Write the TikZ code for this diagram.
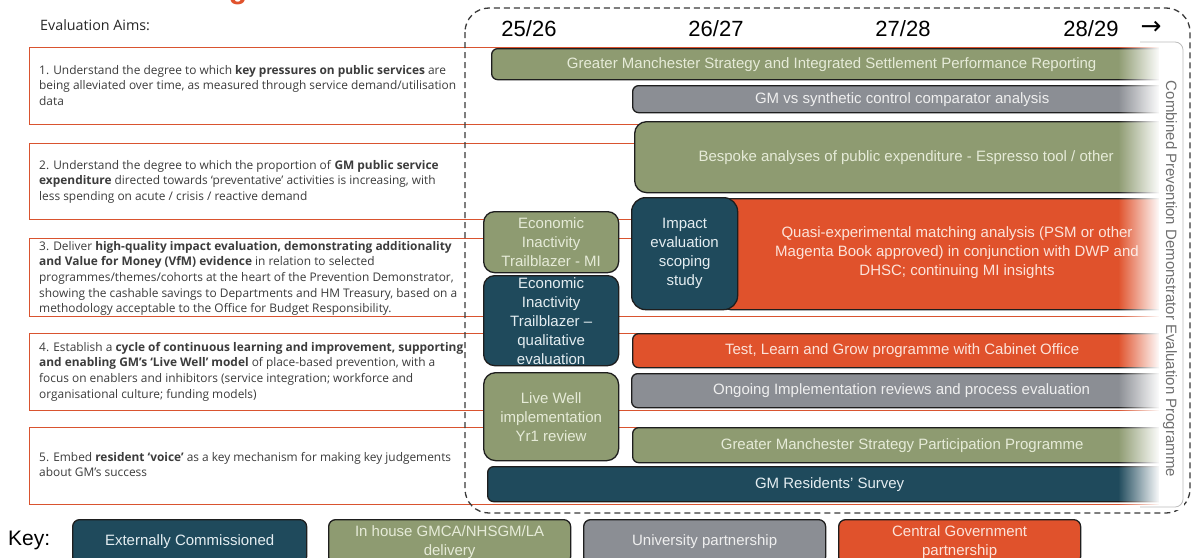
\documentclass[tikz,border=0pt]{standalone}
\usepackage{fontspec}
\setmainfont{Open Sans}
\newfontfamily\barfont{Liberation Sans}
\newfontfamily\symfont{DejaVu Sans}
\usetikzlibrary{fadings}
\definecolor{aimred}{HTML}{D9532F}
\definecolor{aimgray}{HTML}{3C3C3C}
\definecolor{gmgreen}{HTML}{8E9B71}
\definecolor{gmgray}{HTML}{8B8E94}
\definecolor{gmteal}{HTML}{1F4A5C}
\definecolor{gmorange}{HTML}{E0522C}
\definecolor{bardark}{HTML}{1E1E1E}
\definecolor{greentext}{HTML}{E6EBD8}
\definecolor{graytext}{HTML}{EFEFEF}
\definecolor{tealtext}{HTML}{E4EDF1}
\definecolor{orangetext}{HTML}{FCE3DA}
\definecolor{framegray}{HTML}{3A3A3A}
\definecolor{paneledge}{HTML}{BDBDBD}
\definecolor{vtext}{HTML}{707070}
\tikzfading[name=fadeR, left color=transparent!100, right color=transparent!0]
\begin{document}
\begin{tikzpicture}[x=1pt,y=-1pt,
  aimbox/.style={draw=aimred, line width=1.4pt, fill=white, anchor=north west, inner sep=0pt, minimum height=77pt, minimum width=1131pt},
  aimtext/.style={anchor=north west, inner sep=0pt, align=left, text=aimgray, font=\fontsize{11.9}{15.6}\selectfont},
  bar/.style={draw=bardark, line width=1.3pt, rounded corners=6pt, anchor=north west, inner sep=0pt, align=center, font=\barfont\fontsize{15}{19}\selectfont},
  greenbar/.style={bar, fill=gmgreen, text=greentext},
  graybar/.style={bar, fill=gmgray, text=graytext},
  tealbar/.style={bar, fill=gmteal, text=tealtext},
  orangebar/.style={bar, fill=gmorange, text=orangetext},
  yearlabel/.style={font=\barfont\fontsize{22}{26}\selectfont, inner sep=0pt},
  keybox/.style={bar, rounded corners=7pt, minimum width=240pt, minimum height=44pt}
]
\clip (0,0) rectangle (1194,557);
\useasboundingbox (0,0) rectangle (1194,557);
\fill[white] (0,0) rectangle (1194,557);

% fragment of the title
\node[text=gmorange, font=\barfont\bfseries\fontsize{30}{30}\selectfont, anchor=base, inner sep=0pt] (title) at (238,-1.5) {g};

\node[anchor=west, inner sep=0pt, font=\fontsize{14.3}{16}\selectfont, text=black!85] (aimshead) at (40,25) {Evaluation Aims:};

% aim boxes
\node[aimbox] (a1) at (29,47) {};
\node[aimbox, minimum height=76pt] (a2) at (29,143) {};
\node[aimbox, minimum height=78pt] (a3) at (29,238) {};
\node[aimbox, minimum height=77pt] (a4) at (29,333) {};
\node[aimbox, minimum height=77pt] (a5) at (29,427) {};

\node[aimtext] (t1) at (39,65) {1. Understand the degree to which \textbf{key pressures on public services} are\\being alleviated over time, as measured through service demand/utilisation\\data};
\node[aimtext] (t2) at (39,160) {2. Understand the degree to which the proportion of \textbf{GM public service}\\\textbf{expenditure} directed towards ‘preventative’ activities is increasing, with\\less spending on acute / crisis / reactive demand};
\node[aimtext] (t3) at (39,241) {3. Deliver \textbf{high-quality impact evaluation, demonstrating additionality}\\\textbf{and Value for Money (VfM) evidence} in relation to selected\\programmes/themes/cohorts at the heart of the Prevention Demonstrator,\\showing the cashable savings to Departments and HM Treasury, based on a\\methodology acceptable to the Office for Budget Responsibility.};
\node[aimtext] (t4) at (39,342) {4. Establish a \textbf{cycle of continuous learning and improvement, supporting}\\\textbf{and enabling GM’s ‘Live Well’ model} of place-based prevention, with a\\focus on enablers and inhibitors (service integration; workforce and\\organisational culture; funding models)};
\node[aimtext] (t5) at (39,452) {5. Embed \textbf{resident ‘voice’} as a key mechanism for making key judgements\\about GM’s success};

% timeline frame
\draw[framegray, line width=1.3pt, dash pattern=on 6pt off 4pt, rounded corners=24pt] (465,8) rectangle (1190,513);

% year labels
\node[yearlabel] (y1) at (529,29) {25/26};
\node[yearlabel] (y2) at (716,29) {26/27};
\node[yearlabel] (y3) at (903,29) {27/28};
\node[yearlabel] (y4) at (1091,29) {28/29};
\node[inner sep=0pt, font=\symfont\fontsize{25}{28}\selectfont] (arr) at (1151,28) {→};

% bars
\node[greenbar, minimum width=680pt, minimum height=31pt] (b1) at (491,48) {Greater Manchester Strategy and Integrated Settlement Performance Reporting};
\node[graybar, minimum width=539pt, minimum height=27pt] (b2) at (632,85) {GM vs synthetic control comparator analysis};
\node[greenbar, rounded corners=12pt, minimum width=537pt, minimum height=71pt] (b3) at (634,121) {\hspace*{6pt}Bespoke analyses of public expenditure - Espresso tool / other};
\node[orangebar, rounded corners=10pt, minimum width=451pt, minimum height=111pt] (b4) at (720,198) {};
\node[text=orangetext, align=center, font=\barfont\fontsize{15}{19}\selectfont, inner sep=0pt] (b4t) at (957,253) {Quasi-experimental matching analysis (PSM or other\\Magenta Book approved) in conjunction with DWP and\\DHSC; continuing MI insights};
\node[tealbar, rounded corners=14pt, minimum width=106pt, minimum height=112pt] (b5) at (631,197) {Impact\\evaluation\\scoping\\study};
\node[greenbar, rounded corners=11pt, minimum width=135pt, minimum height=61pt] (b6) at (483,211) {Economic\\Inactivity\\Trailblazer - MI};
\node[tealbar, rounded corners=11pt, minimum width=135pt, minimum height=90pt] (b7) at (483,275) {Economic\\Inactivity\\Trailblazer –\\qualitative\\evaluation};
\node[orangebar, minimum width=539pt, minimum height=34pt] (b8) at (632,333) {Test, Learn and Grow programme with Cabinet Office};
\node[graybar, minimum width=540pt, minimum height=34pt] (b9) at (631,373) {Ongoing Implementation reviews and process evaluation};
\node[greenbar, rounded corners=12pt, minimum width=135pt, minimum height=88pt] (b10) at (483,372) {Live Well\\implementation\\Yr1 review};
\node[greenbar, minimum width=539pt, minimum height=35pt] (b11) at (632,427) {Greater Manchester Strategy Participation Programme};
\node[tealbar, minimum width=684pt, minimum height=35pt] (b12) at (487,466) {GM Residents’ Survey};

% right fade and side panel
\fill[white, path fading=fadeR] (1118,38) rectangle (1160,510);
\fill[white] (1159,38) rectangle (1184,510);
\draw[paneledge, line width=0.8pt, rounded corners=8pt] (1140,42) -- (1183,42) -- (1183,507) -- (1140,507);
\node[rotate=-90, inner sep=0pt, text=vtext, font=\barfont\fontsize{15}{17}\selectfont] (side) at (1170,279) {Combined Prevention Demonstrator Evaluation Programme};

% key
\node[anchor=west, inner sep=0pt, font=\barfont\fontsize{21}{24}\selectfont] (keylbl) at (8,540) {Key:};
\node[keybox, fill=gmteal, text=tealtext, minimum width=234pt] (k1) at (72,519) {Externally Commissioned};
\node[keybox, fill=gmgreen, text=greentext, minimum width=242pt] (k2) at (328,519) {In house GMCA/NHSGM/LA\\delivery};
\node[keybox, fill=gmgray, text=graytext, minimum width=242pt] (k3) at (583,519) {University partnership};
\node[keybox, fill=gmorange, text=orangetext, minimum width=242pt] (k4) at (838,519) {Central Government\\partnership};
\end{tikzpicture}
\end{document}
